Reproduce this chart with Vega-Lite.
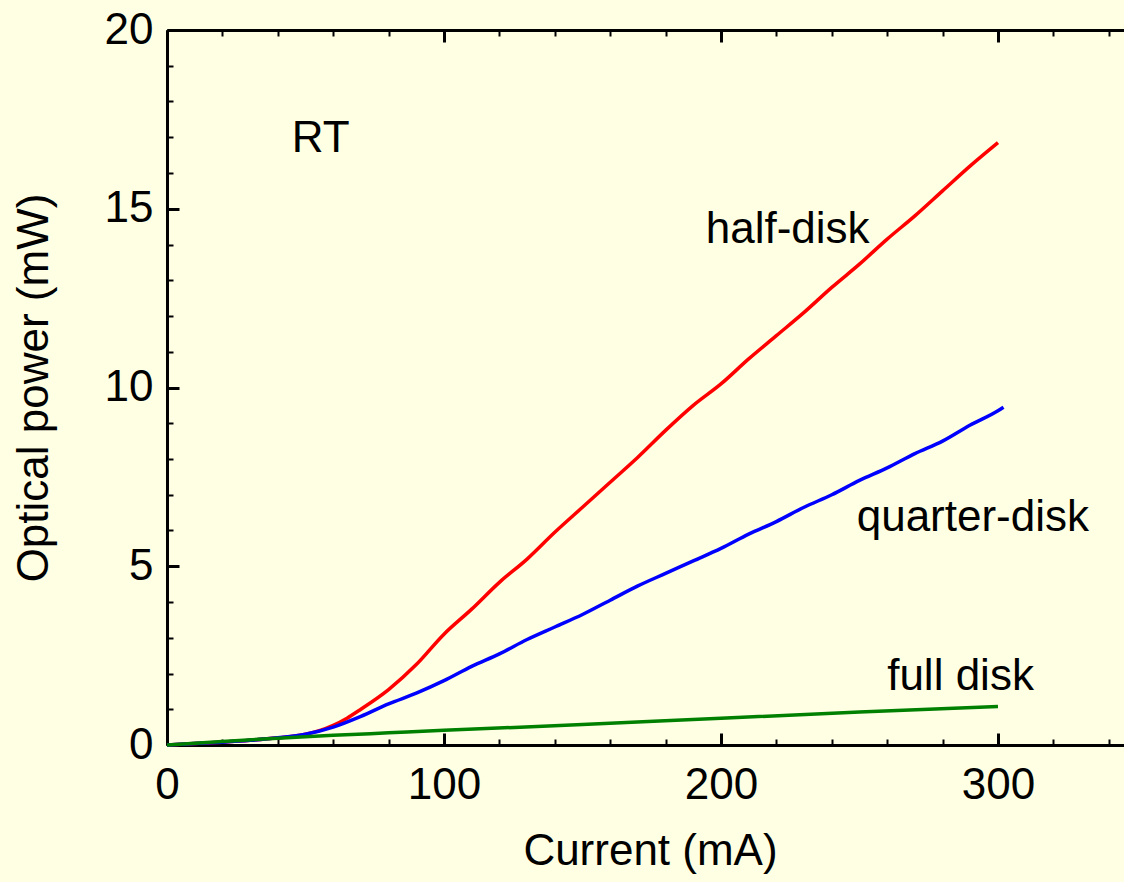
{
  "$schema": "https://vega.github.io/schema/vega-lite/v6.json",
  "width": 957,
  "height": 715,
  "autosize": {"type": "none"},
  "padding": {"left": 167, "top": 30, "right": 0, "bottom": 137},
  "background": "#FFFFE3",
  "config": {
    "view": {"stroke": null},
    "font": "Liberation Sans",
    "axis": {
      "labelFont": "Liberation Sans",
      "titleFont": "Liberation Sans",
      "labelFontSize": 44,
      "titleFontSize": 44,
      "labelColor": "black",
      "titleColor": "black",
      "titleFontWeight": "normal",
      "domainColor": "black",
      "tickColor": "black",
      "grid": false
    }
  },
  "datasets": {
    "curves": [
      {"series": "half-disk", "current": 0, "power": 0},
      {"series": "half-disk", "current": 10, "power": 0.04},
      {"series": "half-disk", "current": 20, "power": 0.08},
      {"series": "half-disk", "current": 30, "power": 0.13},
      {"series": "half-disk", "current": 40, "power": 0.2},
      {"series": "half-disk", "current": 50, "power": 0.3},
      {"series": "half-disk", "current": 55, "power": 0.4},
      {"series": "half-disk", "current": 60, "power": 0.55},
      {"series": "half-disk", "current": 65, "power": 0.75},
      {"series": "half-disk", "current": 70, "power": 1.0},
      {"series": "half-disk", "current": 80, "power": 1.55},
      {"series": "half-disk", "current": 90, "power": 2.25},
      {"series": "half-disk", "current": 100, "power": 3.1},
      {"series": "half-disk", "current": 110, "power": 3.8},
      {"series": "half-disk", "current": 120, "power": 4.55},
      {"series": "half-disk", "current": 130, "power": 5.2},
      {"series": "half-disk", "current": 140, "power": 5.95},
      {"series": "half-disk", "current": 150, "power": 6.65},
      {"series": "half-disk", "current": 160, "power": 7.35},
      {"series": "half-disk", "current": 170, "power": 8.05},
      {"series": "half-disk", "current": 180, "power": 8.8},
      {"series": "half-disk", "current": 190, "power": 9.5},
      {"series": "half-disk", "current": 200, "power": 10.1},
      {"series": "half-disk", "current": 210, "power": 10.8},
      {"series": "half-disk", "current": 220, "power": 11.45},
      {"series": "half-disk", "current": 230, "power": 12.1},
      {"series": "half-disk", "current": 240, "power": 12.8},
      {"series": "half-disk", "current": 250, "power": 13.45},
      {"series": "half-disk", "current": 260, "power": 14.15},
      {"series": "half-disk", "current": 270, "power": 14.8},
      {"series": "half-disk", "current": 280, "power": 15.5},
      {"series": "half-disk", "current": 290, "power": 16.2},
      {"series": "half-disk", "current": 300, "power": 16.85},
      {"series": "quarter-disk", "current": 0, "power": 0},
      {"series": "quarter-disk", "current": 10, "power": 0.04},
      {"series": "quarter-disk", "current": 20, "power": 0.08},
      {"series": "quarter-disk", "current": 30, "power": 0.13},
      {"series": "quarter-disk", "current": 40, "power": 0.2},
      {"series": "quarter-disk", "current": 50, "power": 0.3},
      {"series": "quarter-disk", "current": 60, "power": 0.5},
      {"series": "quarter-disk", "current": 70, "power": 0.8},
      {"series": "quarter-disk", "current": 80, "power": 1.15},
      {"series": "quarter-disk", "current": 90, "power": 1.45},
      {"series": "quarter-disk", "current": 100, "power": 1.8},
      {"series": "quarter-disk", "current": 110, "power": 2.2},
      {"series": "quarter-disk", "current": 120, "power": 2.55},
      {"series": "quarter-disk", "current": 130, "power": 2.95},
      {"series": "quarter-disk", "current": 140, "power": 3.3},
      {"series": "quarter-disk", "current": 150, "power": 3.65},
      {"series": "quarter-disk", "current": 160, "power": 4.05},
      {"series": "quarter-disk", "current": 170, "power": 4.45},
      {"series": "quarter-disk", "current": 180, "power": 4.8},
      {"series": "quarter-disk", "current": 190, "power": 5.15},
      {"series": "quarter-disk", "current": 200, "power": 5.5},
      {"series": "quarter-disk", "current": 210, "power": 5.9},
      {"series": "quarter-disk", "current": 220, "power": 6.25},
      {"series": "quarter-disk", "current": 230, "power": 6.65},
      {"series": "quarter-disk", "current": 240, "power": 7.0},
      {"series": "quarter-disk", "current": 250, "power": 7.4},
      {"series": "quarter-disk", "current": 260, "power": 7.75},
      {"series": "quarter-disk", "current": 270, "power": 8.15},
      {"series": "quarter-disk", "current": 280, "power": 8.5},
      {"series": "quarter-disk", "current": 290, "power": 8.95},
      {"series": "quarter-disk", "current": 300, "power": 9.35},
      {"series": "quarter-disk", "current": 302, "power": 9.45},
      {"series": "full disk", "current": 0, "power": 0},
      {"series": "full disk", "current": 20, "power": 0.1},
      {"series": "full disk", "current": 40, "power": 0.19},
      {"series": "full disk", "current": 60, "power": 0.27},
      {"series": "full disk", "current": 80, "power": 0.34},
      {"series": "full disk", "current": 100, "power": 0.41},
      {"series": "full disk", "current": 150, "power": 0.57},
      {"series": "full disk", "current": 200, "power": 0.75},
      {"series": "full disk", "current": 250, "power": 0.92},
      {"series": "full disk", "current": 300, "power": 1.08}
    ],
    "labels": [
      {"text": "RT", "current": 45, "power": 16.59},
      {"text": "half-disk", "current": 194.5, "power": 14.04},
      {"text": "quarter-disk", "current": 249, "power": 5.99},
      {"text": "full disk", "current": 260, "power": 1.54}
    ]
  },
  "resolve": {"axis": {"x": "independent", "y": "independent"}},
  "layer": [
    {
      "data": {"name": "curves"},
      "transform": [{"filter": "datum.series === 'half-disk'"}],
      "mark": {"type": "line", "color": "#FF0000", "strokeWidth": 3.5, "interpolate": "monotone"},
      "encoding": {
        "x": {
          "field": "current", "type": "quantitative",
          "scale": {"domain": [0, 345.5], "nice": false, "zero": false},
          "axis": {
            "orient": "bottom", "title": "Current (mA)", "values": [0, 100, 200, 300],
            "format": "d", "domainWidth": 3, "tickWidth": 3, "tickSize": -12,
            "labelPadding": 30, "titlePadding": 22, "titleX": 483, "labelFlush": false, "labelOverlap": false
          }
        },
        "y": {
          "field": "power", "type": "quantitative",
          "scale": {"domain": [0, 20], "nice": false},
          "axis": {
            "orient": "left", "title": "Optical power (mW)", "values": [0, 5, 10, 15, 20],
            "format": "d", "domainWidth": 3, "tickWidth": 3, "tickSize": -12,
            "labelPadding": 26, "titlePadding": 48, "labelBaseline": "middle", "labelFlush": false, "labelOverlap": false
          }
        }
      }
    },
    {
      "data": {"name": "curves"},
      "transform": [{"filter": "datum.series === 'quarter-disk'"}],
      "mark": {"type": "line", "color": "#0000FF", "strokeWidth": 3.5, "interpolate": "monotone"},
      "encoding": {
        "x": {
          "field": "current", "type": "quantitative",
          "axis": {
            "orient": "bottom", "title": null, "labels": false, "domain": false,
            "values": [0, 20, 40, 60, 80, 100, 120, 140, 160, 180, 200, 220, 240, 260, 280, 300, 320, 340],
            "tickWidth": 2, "tickSize": -6
          }
        },
        "y": {
          "field": "power", "type": "quantitative",
          "axis": {
            "orient": "left", "title": null, "labels": false, "domain": false,
            "values": [0, 1, 2, 3, 4, 5, 6, 7, 8, 9, 10, 11, 12, 13, 14, 15, 16, 17, 18, 19, 20],
            "tickWidth": 2, "tickSize": -6
          }
        }
      }
    },
    {
      "data": {"name": "curves"},
      "transform": [{"filter": "datum.series === 'full disk'"}],
      "mark": {"type": "line", "color": "#008000", "strokeWidth": 3.5, "interpolate": "monotone"},
      "encoding": {
        "x": {
          "field": "current", "type": "quantitative",
          "axis": {
            "orient": "top", "title": null, "labels": false, "domainWidth": 3,
            "values": [0, 100, 200, 300], "tickWidth": 3, "tickSize": -12
          }
        },
        "y": {"field": "power", "type": "quantitative", "axis": null}
      }
    },
    {
      "data": {"name": "labels"},
      "mark": {"type": "text", "align": "left", "baseline": "alphabetic", "fontSize": 44, "font": "Liberation Sans", "color": "black"},
      "encoding": {
        "x": {
          "field": "current", "type": "quantitative",
          "axis": {
            "orient": "top", "title": null, "labels": false, "domain": false,
            "values": [0, 20, 40, 60, 80, 100, 120, 140, 160, 180, 200, 220, 240, 260, 280, 300, 320, 340],
            "tickWidth": 2, "tickSize": -6
          }
        },
        "y": {"field": "power", "type": "quantitative", "axis": null},
        "text": {"field": "text"}
      }
    }
  ]
}
